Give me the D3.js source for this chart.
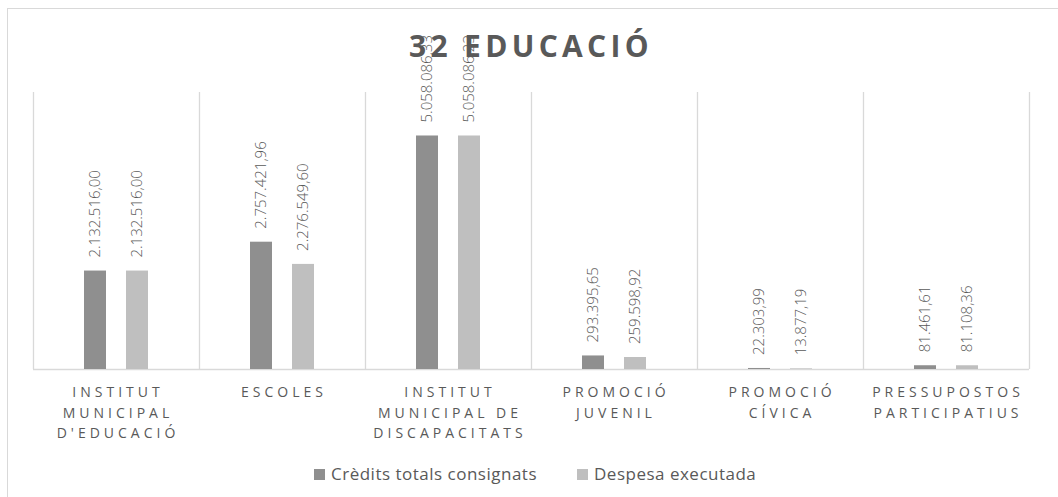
<!DOCTYPE html>
<html>
<head>
<meta charset="utf-8">
<script src="https://cdn.jsdelivr.net/npm/d3@7"></script>
<style>
  body { margin: 0; background: #fff; }
  svg { display: block; font-family: "Open Sans", sans-serif; }
</style>
</head>
<body>
<div id="chart-area"></div>
<script>
const categories = [
  ["INSTITUT", "MUNICIPAL", "D'EDUCACIÓ"],
  ["ESCOLES"],
  ["INSTITUT", "MUNICIPAL DE", "DISCAPACITATS"],
  ["PROMOCIÓ", "JUVENIL"],
  ["PROMOCIÓ", "CÍVICA"],
  ["PRESSUPOSTOS", "PARTICIPATIUS"]
]
const credits = [2132516.00, 2757421.96, 5058086.33, 293395.65, 22303.99, 81461.61]
const despesa = [2132516.00, 2276549.60, 5058086.23, 259598.92, 13877.19, 81108.36]
const seriesNames = ["Crèdits totals consignats", "Despesa executada"]
const colors = ["#8f8f8f", "#bfbfbf"]

const w = 1058
const h = 497

const ca = d3.formatLocale({ decimal: ",", thousands: ".", grouping: [3], currency: ["", " €"] })
const fmt = ca.format(",.2f")

const svg = d3.select("#chart-area")
  .append("svg")
  .attr("width", w)
  .attr("height", h)

// chart frame (cut off at right and bottom)
svg.append("rect")
  .attr("x", 7.5)
  .attr("y", 8.5)
  .attr("width", w + 10)
  .attr("height", h + 10)
  .attr("fill", "none")
  .attr("stroke", "#d9d9d9")

const x = d3.scaleBand()
  .domain(d3.range(categories.length))
  .range([33, 1029])

const y = d3.scaleLinear()
  .domain([0, 6000000])
  .range([369, 92])

const barW = 22
const gap = 20

// category separators
svg.selectAll(".sep")
  .data(d3.range(categories.length + 1))
  .enter()
  .append("line")
  .attr("class", "sep")
  .attr("x1", (d) => Math.round(33 + d * x.bandwidth()) + 0.5)
  .attr("x2", (d) => Math.round(33 + d * x.bandwidth()) + 0.5)
  .attr("y1", y(6000000))
  .attr("y2", y(0))
  .attr("stroke", "#d9d9d9")
  .attr("stroke-width", 1.3)

svg.append("line")
  .attr("x1", 33)
  .attr("x2", 1029)
  .attr("y1", y(0) + 0.5)
  .attr("y2", y(0) + 0.5)
  .attr("stroke", "#d9d9d9")
  .attr("stroke-width", 1.3)

svg.append("text")
  .attr("x", 531)
  .attr("y", 57)
  .attr("text-anchor", "middle")
  .attr("fill", "#595959")
  .style("font-size", "30px")
  .style("font-weight", "bold")
  .style("letter-spacing", "4.3px")
  .text("32 EDUCACIÓ")

const series = [credits, despesa]

series.forEach((vals, s) => {
  const cx = (i) => x(i) + x.bandwidth() / 2 + (s === 0 ? -(gap / 2 + barW / 2) : (gap / 2 + barW / 2))

  svg.selectAll(".bar" + s)
    .data(vals)
    .enter()
    .append("rect")
    .attr("class", "bar" + s)
    .attr("x", (d, i) => cx(i) - barW / 2)
    .attr("y", (d) => y(d))
    .attr("width", barW)
    .attr("height", (d) => y(0) - y(d))
    .attr("fill", colors[s])

  svg.selectAll(".lab" + s)
    .data(vals)
    .enter()
    .append("text")
    .attr("class", "lab" + s)
    .attr("transform", (d, i) => "translate(" + cx(i) + "," + (y(d) - 13) + ") rotate(-90)")
    .attr("dy", "0.35em")
    .attr("fill", "#595959")
    .style("font-size", "15px")
    .style("font-weight", 300)
    .text((d) => fmt(d))
})

const catG = svg.selectAll(".cat")
  .data(categories)
  .enter()
  .append("text")
  .attr("class", "cat")
  .attr("text-anchor", "middle")
  .attr("fill", "#595959")
  .style("font-size", "14px")
  .style("letter-spacing", "4px")

catG.selectAll("tspan")
  .data((d, i) => d.map((t) => ({ t: t, i: i })))
  .enter()
  .append("tspan")
  .attr("x", (d) => x(d.i) + x.bandwidth() / 2 + 2)
  .attr("y", (d, j) => 397 + j * 20.5)
  .text((d) => d.t)

const legend = svg.append("g")
const legX = [314, 577]
seriesNames.forEach((name, s) => {
  legend.append("rect")
    .attr("x", legX[s])
    .attr("y", 469)
    .attr("width", 11)
    .attr("height", 11)
    .attr("fill", colors[s])
  legend.append("text")
    .attr("x", legX[s] + 17)
    .attr("y", 480)
    .attr("fill", "#595959")
    .style("font-size", "17px")
    .style("letter-spacing", "0.5px")
    .text(name)
})
</script>
</body>
</html>
